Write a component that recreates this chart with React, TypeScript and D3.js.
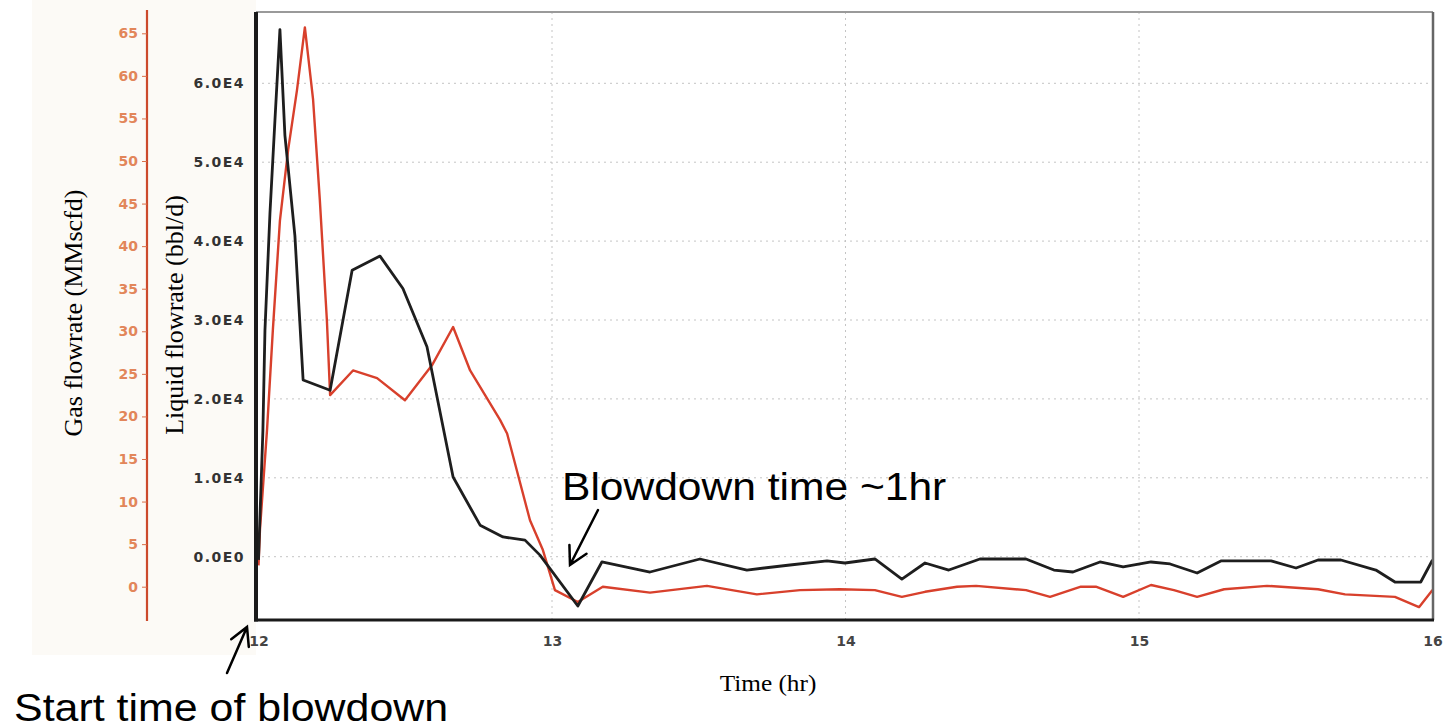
import React, { useEffect, useRef } from 'react';
import * as d3 from 'd3';

// Liquid flowrate (bbl/d) - black curve
const liquidTime = [
  12.0, 12.015, 12.022, 12.039, 12.056, 12.073, 12.09, 12.124, 12.152, 12.244,
  12.319, 12.414, 12.492, 12.574, 12.663, 12.755, 12.833, 12.908, 12.959, 13.088,
  13.17, 13.334, 13.504, 13.664, 13.811, 13.937, 13.998, 14.1, 14.192, 14.271,
  14.352, 14.458, 14.615, 14.71, 14.775, 14.867, 14.946, 15.041, 15.106, 15.198,
  15.279, 15.45, 15.535, 15.61, 15.688, 15.807, 15.872, 15.96, 16.0,
];
const liquidRate = [
  -400, 16000, 28700, 43500, 55300, 66800, 53400, 40700, 22400, 21100,
  36300, 38100, 34000, 26600, 10100, 4000, 2500, 2100, 200, -6250,
  -670, -1940, -290, -1690, -1050, -540, -800, -290, -2830, -800,
  -1690, -290, -290, -1690, -1940, -670, -1300, -670, -920, -2070,
  -540, -540, -1430, -420, -420, -1690, -3210, -3210, -420,
];

// Gas flowrate (MMscfd) - red curve
const gasTime = [
  12.0, 12.005, 12.029, 12.049, 12.073, 12.101, 12.131, 12.158, 12.186, 12.209,
  12.233, 12.244, 12.322, 12.404, 12.499, 12.591, 12.663, 12.721, 12.823, 12.847,
  12.925, 12.969, 13.01, 13.088, 13.173, 13.334, 13.528, 13.698, 13.845, 13.981,
  14.1, 14.192, 14.271, 14.38, 14.445, 14.615, 14.697, 14.802, 14.853, 14.946,
  15.041, 15.119, 15.198, 15.29, 15.436, 15.61, 15.702, 15.872, 15.954, 16.0,
];
const gasRate = [
  2.5, 6.7, 18.4, 30.2, 43.0, 51.3, 58.3, 65.7, 57.2, 45.4,
  31.3, 22.5, 25.4, 24.5, 21.9, 26.0, 30.5, 25.4, 19.6, 18.0,
  7.8, 4.3, -0.4, -1.8, 0.0, -0.7, 0.1, -0.9, -0.4, -0.3,
  -0.4, -1.2, -0.6, 0.0, 0.1, -0.4, -1.2, 0.0, 0.0, -1.2,
  0.2, -0.4, -1.2, -0.3, 0.1, -0.3, -0.9, -1.2, -2.4, -0.4,
];

const timeTicks = [12, 13, 14, 15, 16];
const liquidTicks = [0, 10000, 20000, 30000, 40000, 50000, 60000];
const gasTicks = [0, 5, 10, 15, 20, 25, 30, 35, 40, 45, 50, 55, 60, 65];

const W = 1449;
const H = 728;

function arrow(g: any, x1: number, y1: number, x2: number, y2: number) {
  const ang = Math.atan2(y1 - y2, x1 - x2);
  const len = 20;
  const spread = 0.5;
  const a1 = [x2 + len * Math.cos(ang + spread), y2 + len * Math.sin(ang + spread)];
  const a2 = [x2 + len * Math.cos(ang - spread), y2 + len * Math.sin(ang - spread)];
  g.append('path')
    .attr('d', `M${x1},${y1}L${x2},${y2}M${a1[0]},${a1[1]}L${x2},${y2}L${a2[0]},${a2[1]}`)
    .attr('fill', 'none')
    .attr('stroke', '#000')
    .attr('stroke-width', 2.5)
    .attr('stroke-linecap', 'round');
}

export default function App() {
  const svgRef = useRef<SVGSVGElement>(null);

  useEffect(() => {
    if (!svgRef.current) return;
    document.body.style.overflow = 'hidden';
    const svg = d3.select(svgRef.current);
    svg.selectAll('*').remove();

    const left = 256;
    const right = 1433;
    const top = 12;
    const bottom = 620;

    const x = d3.scaleLinear().domain([12, 16]).range([258.5, 1432.5]);
    const yL = d3.scaleLinear().domain([0, 60000]).range([556.7, 83.3]);
    const yG = d3.scaleLinear().domain([0, 65]).range([586.7, 33.3]);

    svg.append('rect').attr('width', W).attr('height', H).attr('fill', '#fff');
    // faint scanned-paper tint behind the axes
    svg.append('rect').attr('x', 32).attr('y', 0).attr('width', left - 32).attr('height', 655).attr('fill', '#fcfaf6');
    svg.append('rect').attr('x', left).attr('y', top).attr('width', right - left).attr('height', bottom - top).attr('fill', '#fff');

    // grid
    const grid = svg.append('g').attr('stroke', '#c4c4c4').attr('stroke-width', 1).attr('stroke-dasharray', '2 4');
    grid.selectAll('.hg')
      .data(liquidTicks)
      .enter()
      .append('line')
      .attr('x1', left)
      .attr('x2', right)
      .attr('y1', (d) => yL(d))
      .attr('y2', (d) => yL(d));
    grid.selectAll('.vg')
      .data(timeTicks.slice(1, -1))
      .enter()
      .append('line')
      .attr('x1', (d) => x(d))
      .attr('x2', (d) => x(d))
      .attr('y1', top)
      .attr('y2', bottom);

    // curves
    const liqLine = d3.line<number>().x((d, i) => x(liquidTime[i])).y((d) => yL(d));
    const gasLine = d3.line<number>().x((d, i) => x(gasTime[i])).y((d) => yG(d));

    svg.append('path')
      .attr('d', gasLine(gasRate))
      .attr('fill', 'none')
      .attr('stroke', '#d8402c')
      .attr('stroke-width', 2.4)
      .attr('stroke-linejoin', 'round');
    svg.append('path')
      .attr('d', liqLine(liquidRate))
      .attr('fill', 'none')
      .attr('stroke', '#1e1e1e')
      .attr('stroke-width', 2.8)
      .attr('stroke-linejoin', 'round');

    // frame
    svg.append('line').attr('x1', left).attr('x2', right).attr('y1', top).attr('y2', top).attr('stroke', '#9a9a9a').attr('stroke-width', 2);
    svg.append('line').attr('x1', right).attr('x2', right).attr('y1', top).attr('y2', bottom).attr('stroke', '#666').attr('stroke-width', 2.5);
    svg.append('line').attr('x1', left).attr('x2', left).attr('y1', top).attr('y2', bottom + 1.5).attr('stroke', '#1a1a1a').attr('stroke-width', 4);
    svg.append('line').attr('x1', left - 2).attr('x2', right + 1).attr('y1', bottom).attr('y2', bottom).attr('stroke', '#1a1a1a').attr('stroke-width', 3);

    // x axis labels
    const xAxis = svg.append('g')
      .attr('transform', `translate(0,${bottom})`)
      .call(d3.axisBottom(x).tickValues(timeTicks).tickSize(0).tickPadding(16).tickFormat((d) => String(d)));
    xAxis.select('.domain').remove();
    xAxis.selectAll('text')
      .style('font-family', '"DejaVu Sans", sans-serif')
      .style('font-weight', 'bold')
      .style('font-size', '14px')
      .style('fill', '#444');

    // liquid axis labels
    const lAxis = svg.append('g')
      .attr('transform', `translate(${left},0)`)
      .call(
        d3.axisLeft(yL)
          .tickValues(liquidTicks)
          .tickSize(0)
          .tickPadding(11)
          .tickFormat((d: any) => (d === 0 ? '0.0E0' : (d / 10000).toFixed(1) + 'E4'))
      );
    lAxis.select('.domain').remove();
    lAxis.selectAll('text')
      .style('font-family', '"DejaVu Sans", sans-serif')
      .style('font-weight', 'bold')
      .style('font-size', '14px')
      .style('letter-spacing', '1.5px')
      .style('fill', '#333');

    // gas axis
    const gasX = 147;
    svg.append('line').attr('x1', gasX).attr('x2', gasX).attr('y1', 10).attr('y2', 621).attr('stroke', '#cc4a2c').attr('stroke-width', 2.2);
    const gAxis = svg.append('g')
      .attr('transform', `translate(${gasX},0)`)
      .call(d3.axisLeft(yG).tickValues(gasTicks).tickSize(5).tickPadding(4).tickFormat((d) => String(d)));
    gAxis.select('.domain').remove();
    gAxis.selectAll('line').attr('stroke', '#d9704a');
    gAxis.selectAll('text')
      .style('font-family', '"DejaVu Sans", sans-serif')
      .style('font-weight', 'bold')
      .style('font-size', '14px')
      .style('fill', '#e2865a');

    // axis titles
    const serif = '"Liberation Serif", "Times New Roman", serif';
    svg.append('text')
      .attr('transform', 'translate(82,313) rotate(-90)')
      .attr('text-anchor', 'middle')
      .style('font-family', serif)
      .style('font-size', '26px')
      .text('Gas flowrate (MMscfd)');
    svg.append('text')
      .attr('transform', 'translate(183,315) rotate(-90)')
      .attr('text-anchor', 'middle')
      .style('font-family', serif)
      .style('font-size', '26px')
      .text('Liquid flowrate (bbl/d)');
    svg.append('text')
      .attr('transform', 'translate(768,691) scale(1.1,1)')
      .attr('text-anchor', 'middle')
      .style('font-family', serif)
      .style('font-size', '23px')
      .text('Time (hr)');

    // annotations
    const sans = '"Liberation Sans", Arial, sans-serif';
    svg.append('text')
      .attr('transform', 'translate(562,500) scale(1.12,1)')
      .style('font-family', sans)
      .style('font-size', '38px')
      .text('Blowdown time ~1hr');
    svg.append('text')
      .attr('transform', 'translate(14,721) scale(1.13,1)')
      .style('font-family', sans)
      .style('font-size', '38px')
      .text('Start time of blowdown');

    const ann = svg.append('g');
    arrow(ann, 598, 510, 570, 565);
    arrow(ann, 227, 673, 247, 627);
  }, []);

  return (
    <svg
      ref={svgRef}
      width={W}
      height={H}
      style={{ position: 'absolute', left: 0, top: 0, display: 'block' }}
    />
  );
}
